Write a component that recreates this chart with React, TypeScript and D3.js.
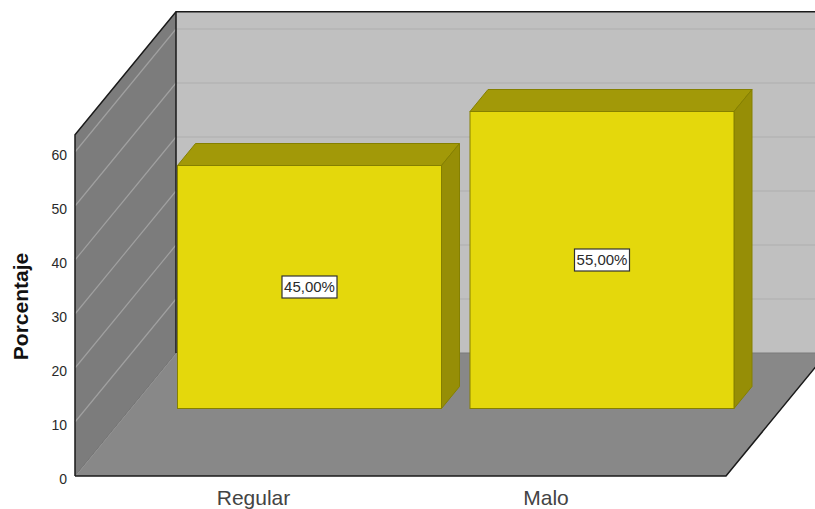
import React from "react";
import * as d3 from "d3";

const categories = ["Regular", "Malo"];
const percentages = [45, 55];
const valueTicks = [0, 10, 20, 30, 40, 50, 60];
const valueMax = 63.2;
const axisTitle = "Porcentaje";

const width = 815;
const height = 509;
const font = "'Liberation Sans', Arial, sans-serif";

// Oblique projection: the front floor edge is y0, walls recede by (depthX, depthY).
const frontLeft = 75;
const frontRight = 726;
const y0 = 476;
const depthX = 101;
const depthY = -123;

const yScale = d3.scaleLinear().domain([0, 60]).range([y0, 152]);
const unit = y0 - yScale(1);
const topFront = yScale(valueMax);

// Bars stand part-way back on the floor, with their own small depth.
const barShiftX = 56;
const barShiftY = -67.5;
const barDepthX = 18;
const barDepthY = -22;
const barWidth = 264;
const xCenter = d3.scalePoint<string>().domain(categories).range([253.5, 546]);

const line = d3.line<[number, number]>();
const poly = (pts: [number, number][]) => line(pts) + "Z";

function Bar({ name, value }: { name: string; value: number }) {
  const x0 = (xCenter(name) as number) + barShiftX - barWidth / 2;
  const x1 = x0 + barWidth;
  const yb = y0 + barShiftY;
  const yt = yb - value * unit;
  const stroke = "#858000";
  const label = `${value.toFixed(2).replace(".", ",")}%`;
  const cx = (x0 + x1) / 2;
  const cy = (yb + yt) / 2;
  return (
    <g>
      <path
        d={poly([[x0, yt], [x1, yt], [x1 + barDepthX, yt + barDepthY], [x0 + barDepthX, yt + barDepthY]])}
        fill="#a29908"
        stroke={stroke}
      />
      <path
        d={poly([[x1, yt], [x1 + barDepthX, yt + barDepthY], [x1 + barDepthX, yb + barDepthY], [x1, yb]])}
        fill="#968e06"
        stroke={stroke}
      />
      <rect x={x0} y={yt} width={barWidth} height={yb - yt} fill="#e4d80c" stroke={stroke} />
      <rect x={cx - 27.5} y={cy - 11} width={55} height={22} fill="#ffffff" stroke="#333333" strokeWidth={1.2} />
      <text x={cx} y={cy + 5} textAnchor="middle" fontSize={15} fontFamily={font} fill="#2a2a2a">
        {label}
      </text>
    </g>
  );
}

export default function App() {
  const backLeft = frontLeft + depthX;
  const backBase = y0 + depthY;
  const backTop = topFront + depthY;
  return (
    <svg
      width={width}
      height={height}
      viewBox={`0 0 ${width} ${height}`}
      style={{ position: "absolute", left: 0, top: 0, background: "#ffffff" }}
    >
      {/* back wall */}
      <rect x={backLeft} y={backTop} width={width - backLeft} height={backBase - backTop} fill="#c0c0c0" />
      {valueTicks.slice(1).map((t) => (
        <line
          key={`back-${t}`}
          x1={backLeft}
          x2={width}
          y1={yScale(t) + depthY}
          y2={yScale(t) + depthY}
          stroke="#b5b5b5"
          strokeWidth={1.5}
        />
      ))}

      {/* left wall */}
      <path
        d={poly([[frontLeft, y0], [frontLeft, topFront], [backLeft, backTop], [backLeft, backBase]])}
        fill="#7c7c7c"
      />
      {valueTicks.slice(1).map((t) => (
        <line
          key={`side-${t}`}
          x1={frontLeft}
          y1={yScale(t)}
          x2={backLeft}
          y2={yScale(t) + depthY}
          stroke="#a0a0a0"
          strokeWidth={1.2}
        />
      ))}

      {/* floor */}
      <path
        d={poly([[frontLeft, y0], [frontRight, y0], [frontRight + depthX, backBase], [backLeft, backBase]])}
        fill="#888888"
      />
      <line x1={backLeft} x2={width} y1={backBase} y2={backBase} stroke="#7b7b7b" strokeWidth={1.2} />
      <line x1={frontLeft} y1={y0} x2={backLeft} y2={backBase} stroke="#6a6a6a" strokeWidth={1} />
      <line x1={frontLeft + 0.8} y1={y0 - 0.2} x2={backLeft + 0.8} y2={backBase - 0.2} stroke="#a0a0a0" strokeWidth={0.6} />

      {/* frame edges */}
      <g fill="none" stroke="#1a1a1a" strokeWidth={1.5}>
        <path
          d={
            line([
              [frontLeft, y0],
              [frontLeft, topFront],
              [backLeft, backTop],
              [width, backTop],
            ]) as string
          }
        />
        <line x1={backLeft} y1={backTop} x2={backLeft} y2={backBase} />
        <path
          d={
            line([
              [frontLeft, y0],
              [frontRight, y0],
              [frontRight + depthX, backBase],
            ]) as string
          }
        />
      </g>

      {categories.map((c, i) => (
        <Bar key={c} name={c} value={percentages[i]} />
      ))}

      {/* axis labels */}
      {valueTicks.map((t) => (
        <text
          key={t}
          x={67}
          y={yScale(t) + 7.5}
          textAnchor="end"
          fontSize={14}
          fontFamily={font}
          fill="#2a2a2a"
        >
          {t}
        </text>
      ))}
      {categories.map((c) => (
        <text
          key={c}
          x={xCenter(c)}
          y={505}
          textAnchor="middle"
          fontSize={21}
          fontFamily={font}
          fill="#444444"
        >
          {c}
        </text>
      ))}
      <text
        transform="translate(28,306.5) rotate(-90)"
        textAnchor="middle"
        fontSize={21}
        fontWeight="bold"
        fontFamily={font}
        fill="#111111"
      >
        {axisTitle}
      </text>
    </svg>
  );
}
